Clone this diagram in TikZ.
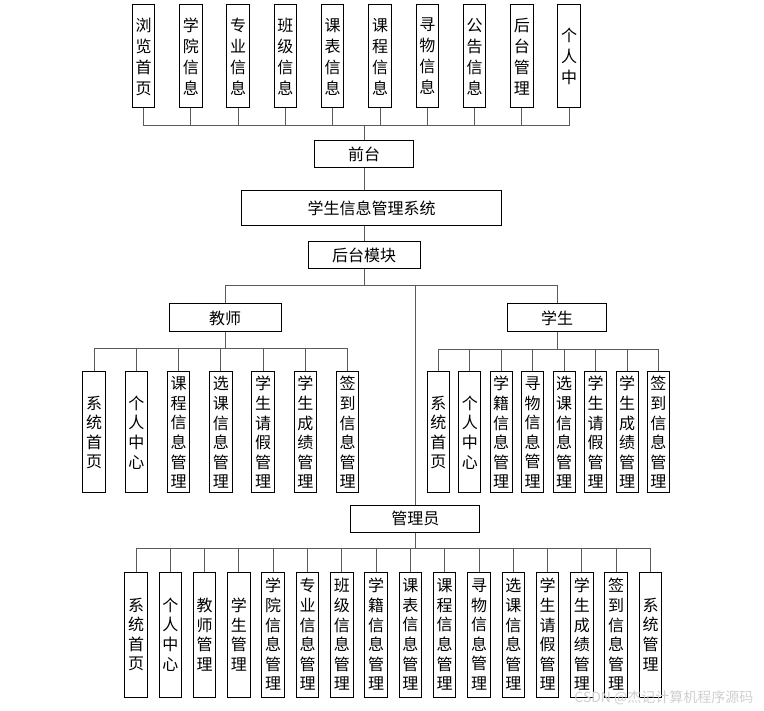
\documentclass[tikz,border=0pt]{standalone}
\usepackage{fontspec}
\setmainfont{Noto Sans CJK SC}
\definecolor{ChartLine}{HTML}{5A5A5A}
\definecolor{ChartMark}{HTML}{CFCFCF}

\begin{document}
\begin{tikzpicture}[x=1pt,y=-1pt,
    headbox/.style={rectangle,draw=black,line width=1pt,inner sep=0pt,
      minimum height=27pt,font=\fontsize{16}{20}\selectfont},
    itembox/.style={rectangle,draw=black,line width=1pt,inner sep=0pt,
      minimum width=22.5pt,align=center,font=\fontsize{16}{19.6}\selectfont},
    link/.style={draw=ChartLine,line width=1pt}
  ]
  \useasboundingbox (0,0) rectangle (764,711);

  % front end pages
  \foreach \txt [count=\i] in {浏\\览\\首\\页,学\\院\\信\\息,专\\业\\信\\息,班\\级\\信\\息,
      课\\表\\信\\息,课\\程\\信\\息,寻\\物\\信\\息,公\\告\\信\\息,后\\台\\管\\理,个\\人\\中}
    \node[itembox,minimum height=103pt,font=\fontsize{16}{21}\selectfont]
      (qt\i) at ({143.5+(\i-1)*47.3},56.5) {\txt};

  \node[headbox,minimum width=99pt] (qian) at (364,154.5) {前台};
  \node[headbox,minimum width=260pt,minimum height=35pt] (sys) at (371.7,208.5) {学生信息管理系统};
  \node[headbox,minimum width=112pt] (hout) at (364,255.5) {后台模块};
  \node[headbox,minimum width=112pt,minimum height=28pt] (jiaoshi) at (225.2,318) {教师};
  \node[headbox,minimum width=99pt,minimum height=28pt] (xuesheng) at (557.2,318) {学生};
  \node[headbox,minimum width=129pt] (guanli) at (415.3,518.7) {管理员};

  % teacher
  \foreach \txt [count=\i] in {系\\统\\首\\页,个\\人\\中\\心,课\\程\\信\\息\\管\\理,选\\课\\信\\息\\管\\理,
      学\\生\\请\\假\\管\\理,学\\生\\成\\绩\\管\\理,签\\到\\信\\息\\管\\理}
    \node[itembox,minimum height=121pt] (js\i) at ({94+(\i-1)*42.25},432.5) {\txt};

  % student
  \foreach \txt [count=\i] in {系\\统\\首\\页,个\\人\\中\\心,学\\籍\\信\\息\\管\\理,寻\\物\\信\\息\\管\\理,
      选\\课\\信\\息\\管\\理,学\\生\\请\\假\\管\\理,学\\生\\成\\绩\\管\\理,签\\到\\信\\息\\管\\理}
    \node[itembox,minimum width=22pt,minimum height=121pt] (xs\i) at ({438.3+(\i-1)*31.45},432.5) {\txt};

  % admin
  \foreach \txt [count=\i] in {系\\统\\首\\页,个\\人\\中\\心,教\\师\\管\\理,学\\生\\管\\理,
      学\\院\\信\\息\\管\\理,专\\业\\信\\息\\管\\理,班\\级\\信\\息\\管\\理,学\\籍\\信\\息\\管\\理,
      课\\表\\信\\息\\管\\理,课\\程\\信\\息\\管\\理,寻\\物\\信\\息\\管\\理,选\\课\\信\\息\\管\\理,
      学\\生\\请\\假\\管\\理,学\\生\\成\\绩\\管\\理,签\\到\\信\\息\\管\\理,系\\统\\管\\理}
    \node[itembox,minimum height=125pt] (gl\i) at ({136+(\i-1)*34.3},634.5) {\txt};

  % connectors
  \coordinate (qtbus) at (364,126);
  \foreach \i in {1,...,10}
    \draw[link] (qt\i.south) |- (qtbus);
  \draw[link] (qtbus) -- (qian.north);
  \draw[link] (qian.south) -- (qian.south |- sys.north);
  \draw[link] (qian.south |- sys.south) -- (hout.north);

  \coordinate (htbus) at (364,286);
  \draw[link] (hout.south) -- (htbus);
  \draw[link] (htbus) -| (jiaoshi.north);
  \draw[link] (htbus) -| (xuesheng.north);
  \draw[link] (htbus) -| (guanli.north);

  \coordinate (jsbus) at (225.2,348.5);
  \draw[link] (jiaoshi.south) -- (jsbus);
  \foreach \i in {1,...,7}
    \draw[link] (js\i.north) |- (jsbus);

  \coordinate (xsbus) at (557.2,350);
  \draw[link] (xuesheng.south) -- (xsbus);
  \foreach \i in {1,...,8}
    \draw[link] (xs\i.north) |- (xsbus);

  \coordinate (glbus) at (415.3,548.3);
  \draw[link] (guanli.south) -- (glbus);
  \foreach \i in {1,...,16}
    \draw[link] (gl\i.north) |- (glbus);

  \node[anchor=east,text=ChartMark,font=\fontsize{14}{14}\selectfont] (mark) at (757,698) {CSDN @杰记计算机程序源码};
\end{tikzpicture}
\end{document}
